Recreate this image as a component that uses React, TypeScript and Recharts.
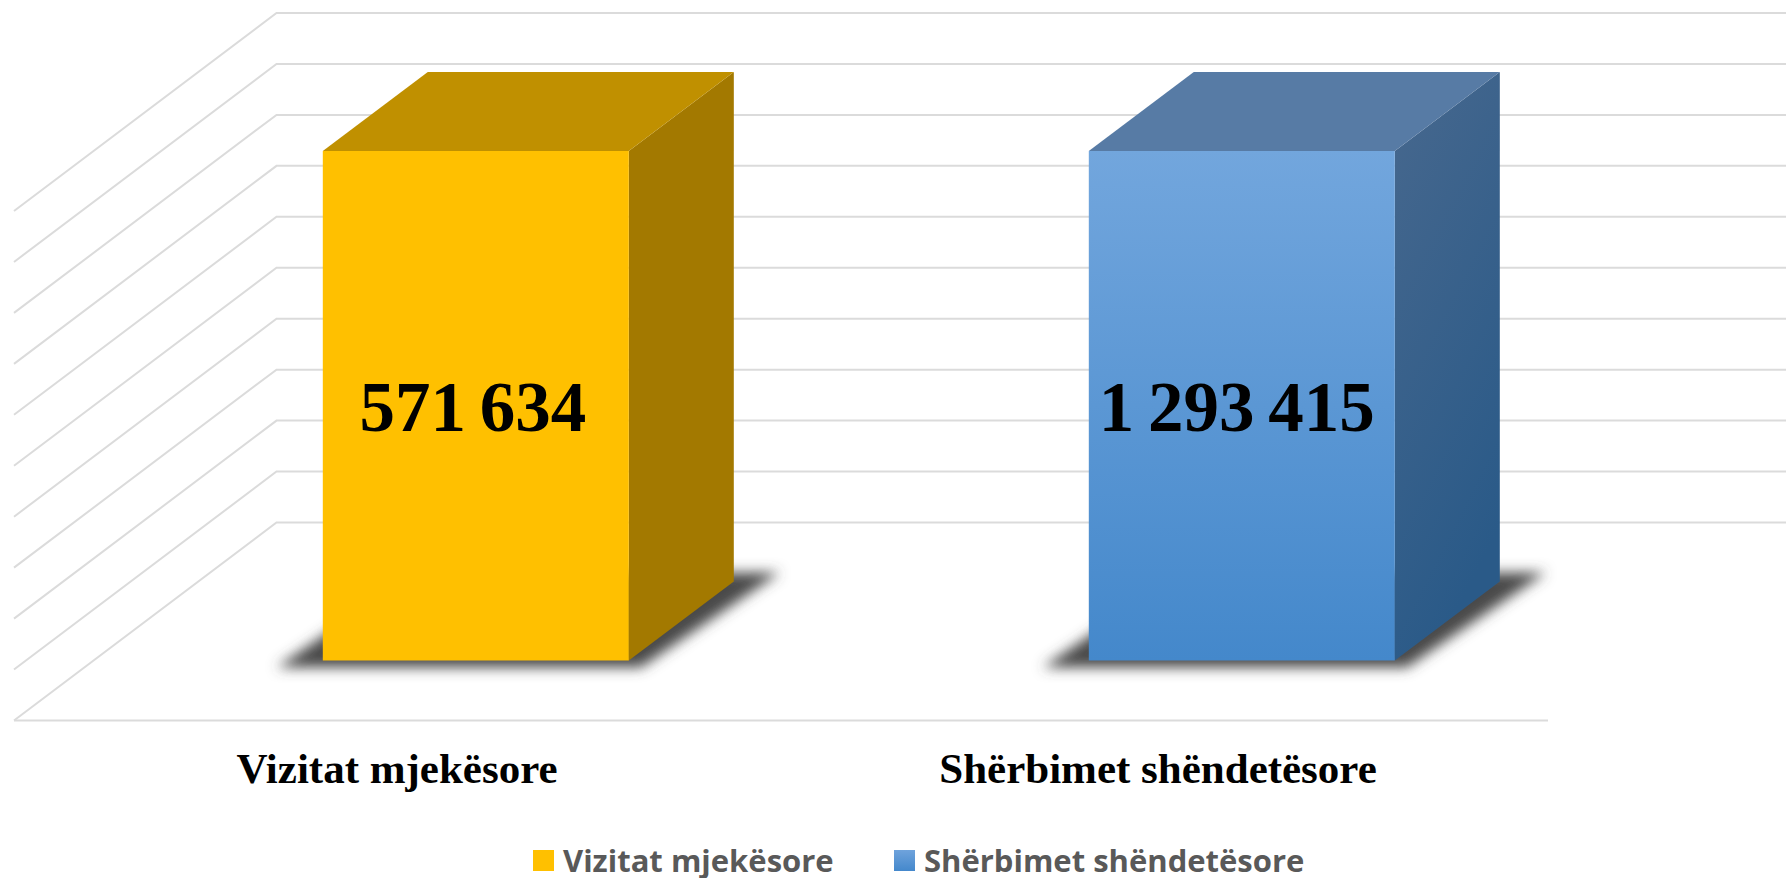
import React from 'react';
import { Bar, BarChart, CartesianGrid, LabelList, Legend, XAxis, YAxis } from 'recharts';

const categories = ['Vizitat mjekësore', 'Shërbimet shëndetësore'];
const visitValues = [571634, 0];
const serviceValues = [0, 1293415];
const shareTicks = [0, 0.1, 0.2, 0.3, 0.4, 0.5, 0.6, 0.7, 0.8, 0.9, 1];

const rows = categories.map((name, i) => ({
  name,
  visits: visitValues[i],
  services: serviceValues[i],
}));

// oblique projection of the old 3D chart, measured from the bar's front plane
const BAR_DX = 105;
const BAR_DY = 79;
const WALL_DX = 183.5;
const WALL_DY = 138;
const FRONT_DX = 79;
const FRONT_DY = 60;

function formatValue(v: any) {
  if (!v) return '';
  return String(v).replace(/\B(?=(\d{3})+$)/g, ' ');
}

function WallLine({ x1, x2, y1, index }: any) {
  const backX = x1 + WALL_DX;
  const backY = y1 - WALL_DY;
  const leftX = x1 - FRONT_DX;
  const leftY = y1 + FRONT_DY;
  return (
    <g key={index} fill="none" stroke="#dbdbdb">
      <polyline points={`${leftX},${leftY} ${backX},${backY} 1790,${backY}`} strokeWidth={2} />
      {y1 > 640 && <line x1={leftX} x2={x2 - FRONT_DX + 2} y1={leftY} y2={leftY} strokeWidth={2} />}
    </g>
  );
}

function Prism({ x, y, width, height, front, side, top }: any) {
  if (!height) return null;
  const r = x + width;
  const b = y + height;
  return (
    <g>
      <polygon
        points={`${x - 46},${b + 7} ${r + 12},${b + 7} ${r + BAR_DX + 46},${b - BAR_DY - 9} ${x + BAR_DX - 12},${b - BAR_DY - 9}`}
        fill="#4a4a4a"
        filter="url(#floorShadow)"
      />
      <polygon
        points={`${r},${y} ${r + BAR_DX},${y - BAR_DY} ${r + BAR_DX},${b - BAR_DY} ${r},${b}`}
        fill={side}
      />
      <polygon
        points={`${x},${y} ${x + BAR_DX},${y - BAR_DY} ${r + BAR_DX},${y - BAR_DY} ${r},${y}`}
        fill={top}
      />
      <rect x={x} y={y} width={width} height={height} fill={front} />
    </g>
  );
}

function CategoryTick({ x, y, payload, index }: any) {
  return (
    <text
      x={x - FRONT_DX - (index ? 5 : 0)}
      y={y + 114}
      textAnchor="middle"
      fontFamily="'Liberation Serif', serif"
      fontWeight="bold"
      fontSize={43}
      fill="#000"
    >
      {payload.value}
    </text>
  );
}

function LegendRow() {
  const items = [
    { name: categories[0], swatch: '#FFC000', left: 533 },
    { name: categories[1], swatch: 'linear-gradient(#6fa3dc, #4488cc)', left: 894 },
  ];
  return (
    <div style={{ position: 'relative', width: 1786, height: 48 }}>
      {items.map((it) => (
        <div key={it.name}>
          <div style={{ position: 'absolute', left: it.left, top: 20, width: 21, height: 21, background: it.swatch }} />
          <div
            style={{
              position: 'absolute',
              left: it.left + 30,
              top: 8,
              fontFamily: "'Open Sans', sans-serif",
              fontWeight: 700,
              fontSize: 31,
              lineHeight: '44px',
              color: '#595959',
              whiteSpace: 'nowrap',
            }}
          >
            {it.name}
          </div>
        </div>
      ))}
    </div>
  );
}

const valueLabelStyle = {
  fontFamily: "'Liberation Serif', serif",
  fontWeight: 'bold',
  fontSize: 71,
  wordSpacing: -4,
  fill: '#000',
};

export default function App() {
  return (
    <div style={{ position: 'absolute', left: 0, top: 0, background: '#fff' }}>
      <BarChart
        width={1786}
        height={878}
        data={rows}
        stackOffset="expand"
        barCategoryGap="30%"
        margin={{ top: 151, right: 161, bottom: 0, left: 93 }}
      >
        <defs>
          <linearGradient id="blueFront" x1="0" y1="0" x2="0" y2="1">
            <stop offset="0%" stopColor="#72a6dd" />
            <stop offset="100%" stopColor="#4488cb" />
          </linearGradient>
          <linearGradient id="blueSide" x1="0" y1="0" x2="0.35" y2="1">
            <stop offset="0%" stopColor="#47688e" />
            <stop offset="100%" stopColor="#2a5a88" />
          </linearGradient>
          <filter id="floorShadow" x="-20%" y="-40%" width="140%" height="180%">
            <feGaussianBlur stdDeviation="6.5" />
          </filter>
        </defs>
        <CartesianGrid vertical={false} horizontal={(props: any) => <WallLine {...props} />} />
        <XAxis
          dataKey="name"
          height={169.5}
          axisLine={false}
          tickLine={false}
          interval={0}
          tick={<CategoryTick />}
        />
        <YAxis hide domain={[0, 1]} ticks={shareTicks} />
        <Legend verticalAlign="bottom" height={48} wrapperStyle={{ left: 0 }} content={<LegendRow />} />
        <Bar
          dataKey="visits"
          name={categories[0]}
          stackId="share"
          fill="#FFC000"
          isAnimationActive={false}
          shape={(p: any) => <Prism {...p} front="#FFC000" side="#A37900" top="#C09000" />}
        >
          <LabelList dataKey="visits" position="center" dx={-3} formatter={formatValue} style={valueLabelStyle} />
        </Bar>
        <Bar
          dataKey="services"
          name={categories[1]}
          stackId="share"
          fill="#5B9BD5"
          isAnimationActive={false}
          shape={(p: any) => <Prism {...p} front="url(#blueFront)" side="url(#blueSide)" top="#577BA5" />}
        >
          <LabelList dataKey="services" position="center" dx={-5} formatter={formatValue} style={valueLabelStyle} />
        </Bar>
      </BarChart>
    </div>
  );
}
